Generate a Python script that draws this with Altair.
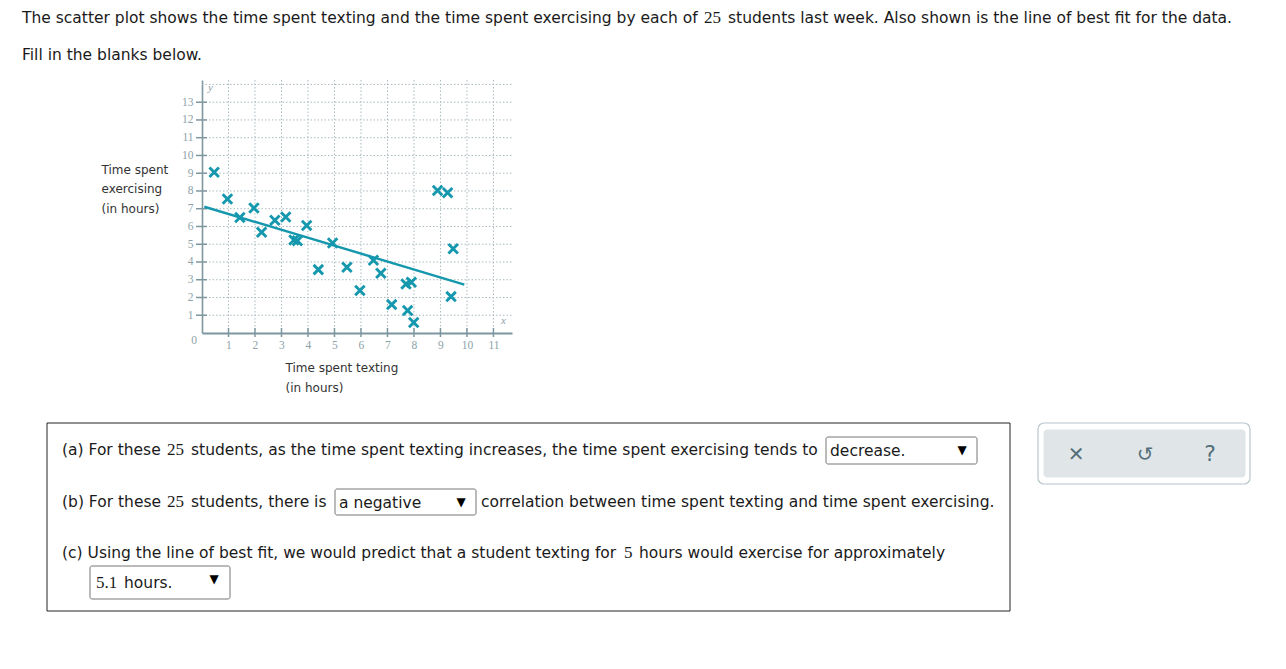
import altair as alt
import pandas as pd

# ---------------- data ----------------
TEXTING = [0.46, 0.96, 1.43, 1.96, 2.25, 2.75, 3.16, 3.47, 3.6, 3.95, 4.39, 4.93, 5.47,
           5.96, 6.47, 6.75, 7.16, 7.7, 7.9, 7.76, 7.99, 8.89, 9.27, 9.48, 9.4]
EXERCISE = [9.05, 7.55, 6.51, 7.04, 5.67, 6.35, 6.53, 5.24, 5.2, 6.05, 3.57, 5.07, 3.7,
            2.39, 4.1, 3.37, 1.6, 2.76, 2.86, 1.27, 0.59, 8.03, 7.9, 4.75, 2.05]
FIT_X = [0.09, 9.9]
FIT_Y = [7.11, 2.73]
X_TICKS = list(range(1, 12))
Y_TICKS = list(range(1, 14))
Y_GRID = list(range(1, 15))

points = pd.DataFrame({"x": TEXTING, "y": EXERCISE})
fit = pd.DataFrame({"x": FIT_X, "y": FIT_Y})
xt = pd.DataFrame({"v": X_TICKS})
yt = pd.DataFrame({"v": Y_TICKS})
yg = pd.DataFrame({"v": Y_GRID})
origin = pd.DataFrame({"x": [0], "y": [0], "t": ["0"]})

# ---------------- layout ----------------
OX, OY = 202, 80          # page position of plot origin (top-left)
W, H = 310, 253
PAGE_W, PAGE_H = 1286, 669

SANS = "DejaVu Sans"
SERIF = "Liberation Serif"
TEAL = "#1597ad"
AX = "#7d979f"
LAB = "#8da2a9"
GRID = "#a9babf"
FS = 15.5

xs = alt.Scale(domain=[0, 11.7], nice=False, zero=False)
ys = alt.Scale(domain=[0, 14.25], nice=False, zero=False)

xaxis = alt.Axis(values=X_TICKS, grid=False, ticks=False, domainColor=AX, domainWidth=2.2,
                 labelFont=SERIF, labelFontSize=11.5, labelColor=LAB, labelPadding=6,
                 labelOverlap=False, labelFlush=False,
                 title=["Time spent texting", "(in hours)"], titleFont=SANS, titleFontSize=12,
                 titleFontWeight="normal", titleColor="#333333", titleAlign="left",
                 titleBaseline="top", titleX=285 - OX, titleY=362 - (OY + H), titleLineHeight=20)
yaxis = alt.Axis(values=Y_TICKS, grid=False, ticks=False, domainColor=AX, domainWidth=1.6,
                 labelFont=SERIF, labelFontSize=11.5, labelColor=LAB, labelPadding=9,
                 labelOverlap=False, labelFlush=False,
                 title=["Time spent", "exercising", "(in hours)"], titleFont=SANS, titleFontSize=12,
                 titleFontWeight="normal", titleColor="#333333", titleAngle=0, titleAlign="left",
                 titleBaseline="top", titleX=101 - OX, titleY=164 - OY, titleLineHeight=19.5)


def X(f):
    return alt.X(f, scale=xs, axis=xaxis)


def Y(f):
    return alt.Y(f, scale=ys, axis=yaxis)


vgrid = alt.Chart(xt).mark_rule(color=GRID, strokeDash=[1.5, 2], strokeWidth=1).encode(
    x=X("v:Q"), y=alt.value(0), y2=alt.value(H))
hgrid = alt.Chart(yg).mark_rule(color=GRID, strokeDash=[1.5, 2], strokeWidth=1).encode(
    y=Y("v:Q"), x=alt.value(0), x2=alt.value(W))
xticks = alt.Chart(xt).mark_rule(color=AX, strokeWidth=1.5).encode(
    x=X("v:Q"), y=alt.value(H - 5), y2=alt.value(H + 4))
yticks = alt.Chart(yt).mark_rule(color=AX, strokeWidth=1.5).encode(
    y=Y("v:Q"), x=alt.value(-6), x2=alt.value(5))
zero = alt.Chart(origin).mark_text(font=SERIF, fontSize=11.5, color=LAB, dx=-8, dy=8).encode(
    x=X("x:Q"), y=Y("y:Q"), text="t:N")

line = alt.Chart(fit).mark_line(color=TEAL, strokeWidth=2.4).encode(x=X("x:Q"), y=Y("y:Q"))
marks = alt.Chart(points).mark_point(shape="M-1,-1L1,1M-1,1L1,-1", size=90, filled=False,
                                     stroke=TEAL, strokeWidth=2.9, opacity=1).encode(
    x=X("x:Q"), y=Y("y:Q"))

ONE = alt.Data(values=[{}])


def txt(s, x, y, size=FS, font=SANS, color="#1a1a1a", align="left", style="normal"):
    return alt.Chart(ONE).mark_text(text=s, font=font, fontSize=size, color=color, align=align,
                                    baseline="middle", fontStyle=style).encode(
        x=alt.value(x - OX), y=alt.value(y - OY))


def box(x1, y1, x2, y2, stroke="#767676", fill="white", sw=1, r=0):
    return alt.Chart(ONE).mark_rect(stroke=stroke, fill=fill, strokeWidth=sw, cornerRadius=r).encode(
        x=alt.value(x1 - OX), x2=alt.value(x2 - OX), y=alt.value(y1 - OY), y2=alt.value(y2 - OY))


deco = [
    txt("y", 208, 88, size=11, font=SERIF, color=LAB, style="italic"),
    txt("x", 501, 321, size=11, font=SERIF, color=LAB, style="italic"),
    # heading
    txt("The scatter plot shows the time spent texting and the time spent exercising by each of", 22, 18),
    txt("25", 704, 18, size=17, font=SERIF),
    txt("students last week. Also shown is the line of best fit for the data.", 728, 18),
    txt("Fill in the blanks below.", 22, 55),
    # question box
    box(47, 423, 1010, 611, stroke="#222222", sw=1),
    txt("(a) For these", 62, 450),
    txt("25", 167, 450, size=17, font=SERIF),
    txt("students, as the time spent texting increases, the time spent exercising tends to", 191, 450),
    box(826, 437, 977, 464, r=2),
    txt("decrease.", 830, 451),
    txt("▼", 962, 450, size=12, align="center", color="#000000"),
    txt("(b) For these", 62, 502),
    txt("25", 167, 502, size=17, font=SERIF),
    txt("students, there is", 191, 502),
    box(335, 489, 476, 515, r=2),
    txt("a negative", 339, 503),
    txt("▼", 461, 502, size=12, align="center", color="#000000"),
    txt("correlation between time spent texting and time spent exercising.", 481, 502),
    txt("(c) Using the line of best fit, we would predict that a student texting for", 62, 553),
    txt("5", 624, 553, size=17, font=SERIF),
    txt("hours would exercise for approximately", 639, 553),
    box(90, 566, 230, 599, r=2),
    txt("5.1", 96, 583, size=17, font=SERIF),
    txt("hours.", 124, 583),
    txt("▼", 214, 579, size=12, align="center", color="#000000"),
    # tool panel
    box(1038, 423, 1250, 484, stroke="#b8c6cb", sw=1.2, r=6),
    box(1044, 430, 1245, 477, stroke="#e0e6e8", fill="#e0e6e8", r=3),
    txt("✕", 1076, 455, size=20, align="center", color="#55707a"),
    txt("↺", 1145, 455, size=20, align="center", color="#55707a"),
    txt("?", 1210, 454, size=22, align="center", color="#55707a"),
]

chart = alt.layer(vgrid, hgrid, xticks, yticks, zero, line, marks, *deco).properties(
    width=W, height=H,
    autosize=alt.AutoSizeParams(type="none"),
    padding={"left": OX, "top": OY, "right": PAGE_W - OX - W, "bottom": PAGE_H - OY - H},
    background="white",
).configure_view(stroke=None).configure_axis(labelOverlap=False)

chart.save("out.html", embed_options={"renderer": "svg", "actions": False})
